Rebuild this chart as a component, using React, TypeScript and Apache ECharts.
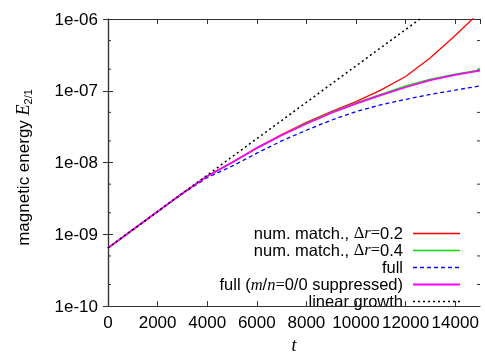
import React, { useEffect, useRef } from "react";
import * as echarts from "echarts";

const T = [0, 1000, 2000, 3000, 4000, 5000, 6000, 7000, 8000, 9000, 10000, 11000, 12000, 13000, 14000, 15000];
const RED = [6.46e-10, 1.16e-9, 2.08e-9, 3.72e-9, 6.46e-9, 1.0e-8, 1.6e-8, 2.45e-8, 3.63e-8, 5.13e-8, 7.08e-8, 1.02e-7, 1.58e-7, 2.88e-7, 5.89e-7, 1.26e-6];
const GREEN = [6.46e-10, 1.16e-9, 2.08e-9, 3.72e-9, 6.46e-9, 1.0e-8, 1.59e-8, 2.42e-8, 3.55e-8, 5.01e-8, 6.76e-8, 8.91e-8, 1.17e-7, 1.45e-7, 1.7e-7, 1.95e-7];
const BLUE = [6.46e-10, 1.16e-9, 2.08e-9, 3.67e-9, 6.17e-9, 8.91e-9, 1.35e-8, 2.0e-8, 2.82e-8, 3.89e-8, 5.13e-8, 6.38e-8, 7.59e-8, 8.91e-8, 1.02e-7, 1.17e-7];
const MAGENTA = [6.46e-10, 1.16e-9, 2.08e-9, 3.72e-9, 6.46e-9, 1.0e-8, 1.59e-8, 2.4e-8, 3.47e-8, 4.9e-8, 6.61e-8, 8.71e-8, 1.12e-7, 1.41e-7, 1.66e-7, 1.91e-7];
const LINEAR = [6.46e-10, 1.16e-9, 2.07e-9, 3.72e-9, 6.67e-9, 1.2e-8, 2.15e-8, 3.85e-8, 6.9e-8, 1.24e-7, 2.22e-7, 3.98e-7, 7.13e-7, 1.28e-6];

const Y_TICK_LABELS = ["1e-10", "1e-09", "1e-08", "1e-07", "1e-06"];
const X_TICK_LABELS = ["0", "2000", "4000", "6000", "8000", "10000", "12000", "14000"];
const MINOR_Y = [2e-10, 5e-10, 2e-9, 5e-9, 2e-8, 5e-8, 2e-7, 5e-7];

const LEGEND = [
  { text: "num. match., {s|Δ}{i|r}{s|=}0.2", color: "#ff0000", type: "solid", width: 1.3 },
  { text: "num. match., {s|Δ}{i|r}{s|=}0.4", color: "#00e000", type: "solid", width: 1.3 },
  { text: "full", color: "#0000ff", type: [4, 3], width: 1.3 },
  { text: "full ({i|m}/{i|n}{s|=}0/0 suppressed)", color: "#ff00ff", type: "solid", width: 1.8 },
  { text: "linear growth", color: "#000000", type: [2, 3], width: 1.5 },
];

const FONT = "Liberation Sans";
const FS = 17;
const LFS = 16.5;

export default function App() {
  const ref = useRef<HTMLDivElement>(null);
  useEffect(() => {
    if (!ref.current) return;
    const chart = echarts.init(ref.current, undefined, { renderer: "svg" });
    const toData = (arr: number[]) => arr.map((v, i) => [T[i], v]);
    const axisLine = { show: true, lineStyle: { color: "#333", width: 1.2 } };
    const yLabelFmt = (v: number) => {
      const e = Math.round(Math.log10(v)) + 10;
      return Y_TICK_LABELS[e] ?? "";
    };
    const xLabelFmt = (v: number) => {
      const idx = Math.round(v / 2000);
      return v % 2000 === 0 ? X_TICK_LABELS[idx] ?? "" : "";
    };
    const lineSeries = (name: string, arr: number[], color: string, type: any, width: number) => ({
      name,
      type: "line",
      data: toData(arr),
      showSymbol: false,
      symbol: "none",
      smooth: false,
      clip: true,
      lineStyle: { color, type, width },
      itemStyle: { color },
    });
    const LH = 15;
    const rich = {
      i: { fontStyle: "italic", fontFamily: "Liberation Serif", fontSize: LFS, fill: "#000", lineHeight: LH },
      s: { fontFamily: "Liberation Serif", fontSize: LFS, fill: "#000", lineHeight: LH },
    };
    const legendGraphics: any[] = [];
    const rowY = [232.5, 249.7, 266.9, 284.1, 301.3];
    LEGEND.forEach((l, k) => {
      const ly = Math.round(rowY[k]) + 0.5;
      legendGraphics.push({
        type: "text",
        x: 403,
        y: rowY[k],
        style: {
          text: l.text,
          rich,
          fontFamily: FONT,
          fontSize: LFS,
          lineHeight: LH,
          fill: "#000",
          align: "right",
          verticalAlign: "middle",
        },
      });
      legendGraphics.push({
        type: "line",
        shape: { x1: 413, y1: ly, x2: 460, y2: ly },
        style: { stroke: l.color, lineWidth: l.width, lineDash: l.type === "solid" ? null : l.type },
      });
    });
    chart.setOption({
      animation: false,
      grid: { left: 108, right: 5, top: 19, bottom: 43 },
      xAxis: [
        {
          type: "value",
          min: 0,
          max: 15000,
          interval: 2000,
          position: "bottom",
          axisLine,
          axisTick: { show: true, inside: true, length: 5, lineStyle: { color: "#333" } },
          splitLine: { show: false },
          axisLabel: { formatter: xLabelFmt, fontFamily: FONT, fontSize: FS, color: "#000", margin: 8, showMaxLabel: false },
          name: "t",
          nameLocation: "middle",
          nameGap: 23,
          nameTextStyle: { fontFamily: "Liberation Serif", fontStyle: "italic", fontSize: FS + 1, color: "#000" },
        },
        {
          type: "value",
          min: 0,
          max: 15000,
          interval: 2000,
          position: "top",
          axisLine,
          axisTick: { show: true, inside: true, length: 5, lineStyle: { color: "#333" } },
          splitLine: { show: false },
          axisLabel: { show: false },
        },
      ],
      yAxis: [
        {
          type: "log",
          logBase: 10,
          min: 1e-10,
          max: 1e-6,
          position: "left",
          axisLine,
          axisTick: { show: true, inside: true, length: 5, lineStyle: { color: "#333" } },
          splitLine: { show: false },
          axisLabel: { formatter: yLabelFmt, fontFamily: FONT, fontSize: FS, color: "#000", margin: 10 },
        },
        {
          type: "log",
          logBase: 10,
          min: 1e-10,
          max: 1e-6,
          position: "right",
          axisLine,
          axisTick: { show: true, inside: true, length: 5, lineStyle: { color: "#333" } },
          splitLine: { show: false },
          axisLabel: { show: false },
        },
      ],
      graphic: [
        {
          type: "text",
          x: 23,
          y: 167.5,
          rotation: Math.PI / 2,
          style: {
            text: "magnetic energy {e|E}{sub|2/1}",
            fontFamily: FONT,
            fontSize: FS,
            fill: "#000",
            align: "center",
            verticalAlign: "middle",
            rich: {
              e: { fontFamily: "Liberation Serif", fontStyle: "italic", fontSize: FS + 1, fill: "#000", lineHeight: 22 },
              sub: { fontFamily: FONT, fontSize: 11, fill: "#000", lineHeight: 12, padding: [10, 0, 0, 0] },
            },
          },
        },
        ...legendGraphics,
      ],
      series: [
        {
          type: "custom",
          silent: true,
          clip: false,
          data: MINOR_Y.map((v) => [0, v]),
          encode: { x: 0, y: 1 },
          renderItem: (params: any, api: any) => {
            const v = api.value(1);
            const pL = api.coord([0, v]);
            const pR = api.coord([15000, v]);
            const st = { stroke: "#333", lineWidth: 1 };
            return {
              type: "group",
              children: [
                { type: "line", shape: { x1: pL[0], y1: pL[1], x2: pL[0] + 3, y2: pL[1] }, style: st },
                { type: "line", shape: { x1: pR[0], y1: pR[1], x2: pR[0] - 3, y2: pR[1] }, style: st },
              ],
            };
          },
        },
        lineSeries("num. match., Δr=0.2", RED, "#ff0000", "solid", 1.3),
        lineSeries("num. match., Δr=0.4", GREEN, "#00e000", "solid", 1.3),
        lineSeries("full", BLUE, "#0000ff", [4, 3], 1.3),
        lineSeries("full (m/n=0/0 suppressed)", MAGENTA, "#ff00ff", "solid", 1.8),
        lineSeries("linear growth", LINEAR, "#000000", [2, 3], 1.5),
      ],
    });
    return () => chart.dispose();
  }, []);
  return <div ref={ref} style={{ position: "fixed", left: 0, top: 0, width: 485, height: 359 }} />;
}
